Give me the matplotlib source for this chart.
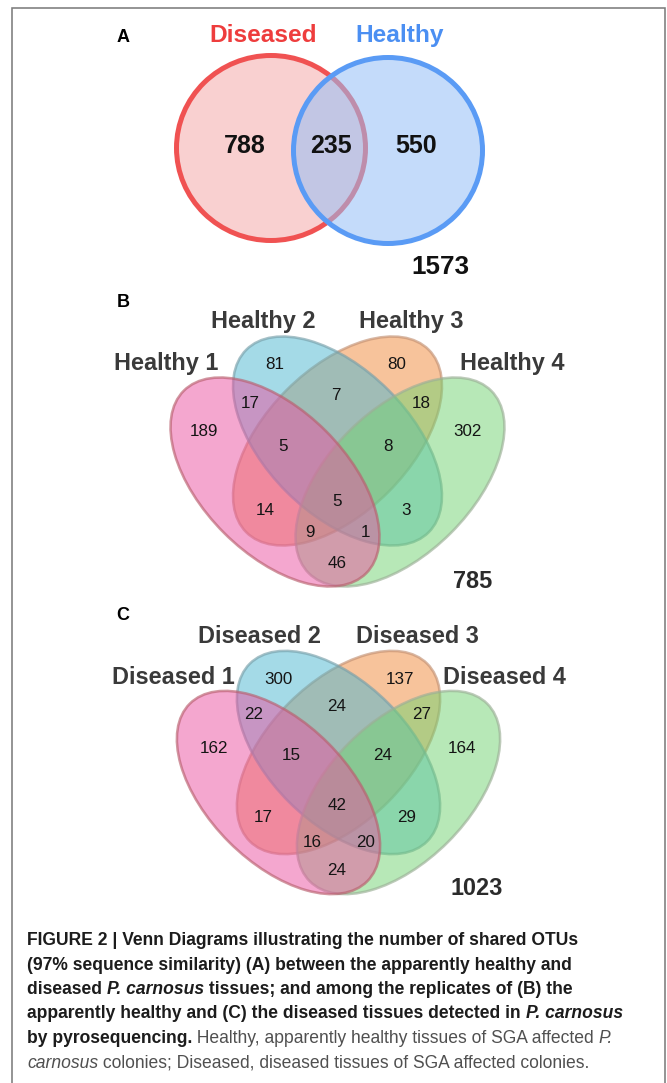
import matplotlib
matplotlib.use("Agg")
import matplotlib.pyplot as plt
from matplotlib.patches import Ellipse

plt.rcParams['font.family'] = ['Liberation Sans', 'DejaVu Sans']

# ---------------- data ----------------
a_sets = ["Diseased", "Healthy"]
a_regions = ["D", "DH", "H"]
a_counts = [788, 235, 550]
a_total = 1573

b_sets = ["Healthy 1", "Healthy 2", "Healthy 3", "Healthy 4"]
c_sets = ["Diseased 1", "Diseased 2", "Diseased 3", "Diseased 4"]
quad_regions = ["1", "2", "3", "4", "12", "23", "34", "123", "234", "1234",
                "13", "24", "134", "124", "14"]
b_counts = [189, 81, 80, 302, 17, 7, 18, 5, 8, 5, 14, 3, 9, 1, 46]
b_total = 785
c_counts = [162, 300, 137, 164, 22, 24, 27, 15, 24, 42, 17, 29, 16, 20, 24]
c_total = 1023

caption_lines = [
    [("FIGURE 2 | Venn Diagrams illustrating the number of shared OTUs", "b")],
    [("(97% sequence similarity) (A) between the apparently healthy and", "b")],
    [("diseased ", "b"), ("P. carnosus", "bi"), (" tissues; and among the replicates of (B) the", "b")],
    [("apparently healthy and (C) the diseased tissues detected in ", "b"), ("P. carnosus", "bi")],
    [("by pyrosequencing.", "b"), (" Healthy, apparently healthy tissues of SGA affected ", "r"), ("P.", "i")],
    [("carnosus", "i"), (" colonies; Diseased, diseased tissues of SGA affected colonies.", "r")],
]

# ---------------- layout (pixels) ----------------
W, H, DPI = 667, 1083, 100
PT = 72.0 / DPI  # points per pixel

fig = plt.figure(figsize=(W / DPI, H / DPI), dpi=DPI)
ax = fig.add_axes([0, 0, 1, 1])
ax.set_xlim(0, W)
ax.set_ylim(H, 0)
ax.axis("off")

# frame
ax.plot([12, 12, 665, 665], [H, 8, 8, H], color="#7d7d7d", lw=1.6 * PT,
        solid_joinstyle="miter", clip_on=False)


def txt(x, y, s, size_px, weight="normal", color="#111111", style="normal", ha="center"):
    ax.text(x, y, s, fontsize=size_px * PT, fontweight=weight, color=color,
            fontstyle=style, ha=ha, va="baseline")


def c(r, g, b, a=1.0):
    return (r / 255, g / 255, b / 255, a)

# ---------------- Panel A ----------------
lw_a = 5 * PT
ax.add_patch(Ellipse((271, 148), 189, 185, facecolor=c(249, 208, 208),
                     edgecolor=c(240, 82, 82), lw=lw_a))
ax.add_patch(Ellipse((388, 150.5), 189, 186, facecolor=c(149, 191, 246, 0.55), edgecolor="none"))
ax.add_patch(Ellipse((388, 150.5), 189, 186, fill=False, edgecolor=c(90, 155, 245), lw=lw_a))

txt(123, 42, "A", 18, weight="bold", color="#000000")
a_label_pos = [(263, 42), (400, 42)]
a_label_col = ["#ee3d3d", "#4b8ff2"]
for name, (x, y), col in zip(a_sets, a_label_pos, a_label_col):
    txt(x, y, name, 24.5, weight="bold", color=col)
a_num_pos = {"D": (245, 153), "DH": (331, 153), "H": (416, 153)}
for reg, val in zip(a_regions, a_counts):
    x, y = a_num_pos[reg]
    txt(x, y, str(val), 25, weight="bold", color="#111111")
txt(440, 274, str(a_total), 26, weight="bold", color="#111111")

# ---------------- quad venn helper ----------------
fills = {1: c(235, 81, 161, 0.5), 2: c(75, 183, 209, 0.5),
         3: c(241, 137, 57, 0.5), 4: c(113, 211, 113, 0.5)}
edges = {1: c(185, 95, 110, 0.65), 2: c(120, 160, 170, 0.65),
         3: c(195, 145, 115, 0.65), 4: c(155, 175, 150, 0.65)}


def quad(cx, cy, dx, dy, a, b, names, label_pos, counts, region_pos, total, total_pos, letter, letter_pos):
    centers = {1: (cx - dx, cy + dy), 2: (cx, cy), 3: (cx, cy), 4: (cx + dx, cy + dy)}
    angles = {1: 45, 2: 45, 3: -45, 4: -45}
    for k in [3, 2, 4, 1]:
        ax.add_patch(Ellipse(centers[k], 2 * a, 2 * b, angle=angles[k],
                             facecolor=fills[k], edgecolor=edges[k], lw=2.6 * PT))
    txt(letter_pos[0], letter_pos[1], letter, 18, weight="bold", color="#000000")
    for name, (x, y) in zip(names, label_pos):
        txt(x, y, name, 23.5, weight="bold", color="#3a3a3a")
    for reg, val in zip(quad_regions, counts):
        x, y = region_pos[reg]
        txt(x, y + 6.2, str(val), 17, color="#141414")
    txt(total_pos[0], total_pos[1], str(total), 23.5, weight="bold", color="#2b2b2b")

# ---------------- Panel B ----------------
b_region_pos = {
    "2": (275, 363), "3": (397, 363), "23": (336, 394), "12": (250, 402),
    "34": (421, 402), "1": (204, 430), "4": (467, 430), "123": (283, 445),
    "234": (388, 445), "1234": (337, 500), "13": (265, 509), "24": (406, 509),
    "134": (310, 531), "124": (366, 531), "14": (337, 562),
}
quad(337.5, 441, 62.5, 41, 129, 72, b_sets,
     [(166, 370), (263, 328), (411, 328), (512, 370)],
     b_counts, b_region_pos, b_total, (473, 588), "B", (123, 307))

# ---------------- Panel C ----------------
c_region_pos = {
    "2": (278, 678), "3": (400, 678), "23": (337, 705), "12": (254, 713),
    "34": (422, 713), "1": (214, 747), "4": (462, 747), "123": (291, 754),
    "234": (383, 754), "1234": (337, 804), "13": (263, 816), "24": (407, 816),
    "134": (312, 841), "124": (366, 841), "14": (337, 869),
}
quad(338.5, 752.5, 60, 40, 125.5, 70, c_sets,
     [(173, 684), (260, 643), (417, 643), (504, 684)],
     c_counts, c_region_pos, c_total, (477, 895), "C", (123, 620))

# ---------------- caption ----------------
styles = {"b": dict(fontweight="bold", fontstyle="normal", color="#1c1c1c"),
          "bi": dict(fontweight="bold", fontstyle="italic", color="#1c1c1c"),
          "r": dict(fontweight="normal", fontstyle="normal", color="#505050"),
          "i": dict(fontweight="normal", fontstyle="italic", color="#505050")}

renderer = fig.canvas.get_renderer()
x0 = 27
right_edges = [651, 603, 626, 651, 630, 591]


def line_width(line, size):
    w = 0
    for s, st in line:
        t = ax.text(0, 0, s, fontsize=size, **styles[st])
        w += t.get_window_extent(renderer).width
        t.remove()
    return w

factors = [(r - x0) / line_width(line, 12) for line, r in zip(caption_lines, right_edges)]
cap_size = 12 * min(factors)

baselines = [945, 969.5, 994, 1018.5, 1043, 1067.5]
for line, yb in zip(caption_lines, baselines):
    x = x0
    for s, st in line:
        t = ax.text(x, yb, s, fontsize=cap_size, ha="left", va="baseline", **styles[st])
        x += t.get_window_extent(renderer).width

fig.savefig("out.png", dpi=DPI)
